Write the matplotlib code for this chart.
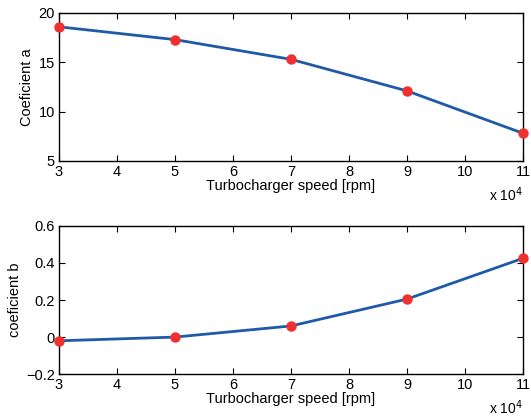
import matplotlib
matplotlib.use("Agg")
import matplotlib.pyplot as plt

speed = [3, 5, 7, 9, 11]
coef_a = [18.6, 17.3, 15.3, 12.1, 7.8]
coef_b = [-0.02, 0.0, 0.06, 0.205, 0.425]
xticks = [3, 4, 5, 6, 7, 8, 9, 10, 11]

plt.rcParams['font.family'] = ['Liberation Sans', 'DejaVu Sans']
plt.rcParams['font.size'] = 10.5

fig = plt.figure(figsize=(5.31, 4.19), dpi=100)
ax1 = fig.add_axes([0.111, 0.616, 0.874, 0.353])
ax2 = fig.add_axes([0.111, 0.107, 0.874, 0.354])

line_col = '#1f5aa8'
mk_col = '#f0302e'

for ax, y, ylim, yt, ylabel in [
    (ax1, coef_a, (5, 20), [5, 10, 15, 20], 'Coeficient a'),
    (ax2, coef_b, (-0.2, 0.6), [-0.2, 0, 0.2, 0.4, 0.6], 'coeficient b'),
]:
    ax.plot(speed, y, color=line_col, lw=2, zorder=2)
    ax.plot(speed, y, 'o', color=mk_col, ms=6.5, zorder=3, clip_on=False)
    ax.set_xlim(3, 11)
    ax.set_ylim(*ylim)
    ax.set_xticks(xticks)
    ax.set_xticklabels([str(v) for v in xticks])
    ax.set_yticks(yt)
    if ax is ax2:
        ax.set_yticklabels(['\u22120.2', '0', '0.2', '0.4', '0.6'])
    ax.set_ylabel(ylabel, labelpad=3)
    ax.set_xlabel('Turbocharger speed [rpm]', labelpad=0)
    ax.tick_params(direction='in', top=True, right=True, length=4, width=0.8, pad=3)
    for s in ax.spines.values():
        s.set_linewidth(1.0)
    ax.text(1.0, -0.165, r'x 10$^4$', transform=ax.transAxes, ha='right', va='top',
            fontsize=10)

fig.savefig('out.png', dpi=100)
